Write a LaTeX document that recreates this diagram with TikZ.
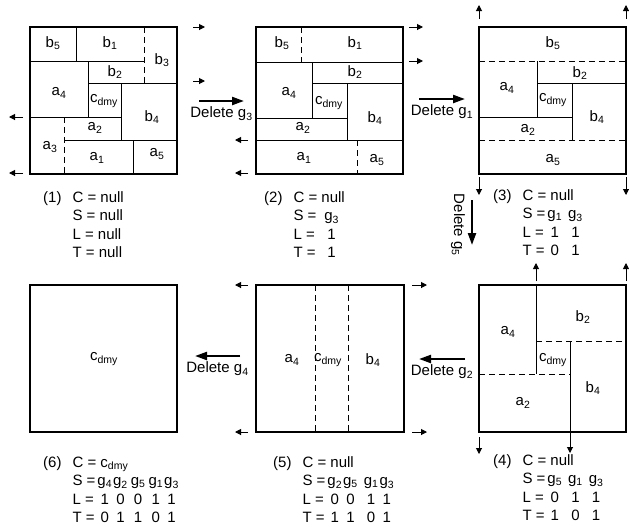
\documentclass[tikz,border=0pt]{standalone}
\usepackage{fontspec}
\setmainfont{Liberation Sans}
\usetikzlibrary{arrows.meta,positioning}
\tikzset{
  pframe/.style={line width=2pt},
  pline/.style={line width=0.9pt},
  pdash/.style={line width=0.9pt,dash pattern=on 6pt off 4pt},
  plabel/.style={inner sep=0pt,font=\fontsize{15}{17}\selectfont},
  endarr/.style={-{Triangle[length=6pt,width=6pt]},line width=1pt},
  delarr/.style={-{Triangle[length=12pt,width=8pt]},line width=2.2pt},
  dellabel/.style={inner sep=0pt,font=\fontsize{15}{17}\selectfont},
  statetext/.style={anchor=north west,inner sep=0pt,font=\fontsize{15}{18.5}\selectfont}
}
\newcommand{\sbs}[2]{#1\textsubscript{#2}}
\newcommand{\cdmy}{c\textsubscript{dmy}}

\begin{document}
\begin{tikzpicture}[x=1pt,y=-1pt]
  \useasboundingbox (0,0) rectangle (629,531);

  %% (1) initial plan
  \begin{scope}[shift={(30,27)}]
    \draw[pframe] (0,0) rectangle (147,147);
    \draw[pline] (0,34) -- (114,34) (46,0) -- (46,34)
                 (58,56) -- (147,56) (58,34) -- (58,90)
                 (0,90) -- (91,90) (91,56) -- (91,113)
                 (34,113) -- (147,113) (103,113) -- (103,147);
    \draw[pdash] (114,0) -- (114,56) (34,90) -- (34,147);
    \node[plabel] (ib5) at (23,16) {\sbs{b}{5}};
    \node[plabel] (ib1) at (80,16) {\sbs{b}{1}};
    \node[plabel] (ib3) at (132,33) {\sbs{b}{3}};
    \node[plabel] (ib2) at (85,45) {\sbs{b}{2}};
    \node[plabel] (ia4) at (29,66) {\sbs{a}{4}};
    \node[plabel] (icd) at (74,74) {\cdmy};
    \node[plabel] (ib4) at (122,90) {\sbs{b}{4}};
    \node[plabel] (ia2) at (65,101) {\sbs{a}{2}};
    \node[plabel] (ia3) at (20,120) {\sbs{a}{3}};
    \node[plabel] (ia1) at (67,131) {\sbs{a}{1}};
    \node[plabel] (ia5) at (127,127) {\sbs{a}{5}};
    \draw[endarr] (163,0) -- (175,0);
    \draw[endarr] (163,54) -- (175,54);
    \draw[endarr] (-7,90) -- (-21,90);
    \draw[endarr] (-7,146) -- (-21,146);
  \end{scope}
  \node[statetext] (st1) at (43,189) {\begin{tabular}{@{}l@{\hspace{11pt}}l@{}}
    (1) & C = null\\ & S = null\\ & L = null\\ & T = null\end{tabular}};

  %% (2) after g3
  \begin{scope}[shift={(256,27)}]
    \draw[pframe] (0,0) rectangle (147,147);
    \draw[pline] (0,35) -- (147,35) (56,56) -- (147,56) (56,35) -- (56,91)
                 (0,91) -- (91,91) (91,56) -- (91,113) (0,113) -- (147,113);
    \draw[pdash] (45,0) -- (45,35) (101,113) -- (101,147);
    \node[plabel] (jb5) at (26,16) {\sbs{b}{5}};
    \node[plabel] (jb1) at (99,16) {\sbs{b}{1}};
    \node[plabel] (jb2) at (99,45) {\sbs{b}{2}};
    \node[plabel] (ja4) at (33,66) {\sbs{a}{4}};
    \node[plabel] (jcd) at (73,76) {\cdmy};
    \node[plabel] (jb4) at (119,91) {\sbs{b}{4}};
    \node[plabel] (ja2) at (47,101) {\sbs{a}{2}};
    \node[plabel] (ja1) at (48,131) {\sbs{a}{1}};
    \node[plabel] (ja5) at (121,133) {\sbs{a}{5}};
    \draw[endarr] (153,0) -- (167,0);
    \draw[endarr] (153,34) -- (167,34);
    \draw[endarr] (-8,113) -- (-21,113);
    \draw[endarr] (-8,146) -- (-21,146);
  \end{scope}
  \node[statetext] (st2) at (264,189) {\begin{tabular}{@{}l@{\hspace{11pt}}l@{\hspace{2pt}}c@{}}
    (2) & \multicolumn{2}{@{}l@{}}{C = null}\\ & S = & \sbs{g}{3}\\ & L = & 1\\ & T = & 1\end{tabular}};

  %% (3) after g1
  \begin{scope}[shift={(479,27)}]
    \draw[pframe] (0,0) rectangle (147,147);
    \draw[pline] (58,34) -- (58,90) (58,56) -- (147,56)
                 (93,56) -- (93,113) (0,90) -- (93,90);
    \draw[pdash] (0,34) -- (147,34) (0,113) -- (147,113);
    \node[plabel] (kb5) at (74,16) {\sbs{b}{5}};
    \node[plabel] (kb2) at (101,46) {\sbs{b}{2}};
    \node[plabel] (ka4) at (28,61) {\sbs{a}{4}};
    \node[plabel] (kcd) at (74,73) {\cdmy};
    \node[plabel] (kb4) at (118,90) {\sbs{b}{4}};
    \node[plabel] (ka2) at (49,103) {\sbs{a}{2}};
    \node[plabel] (ka5) at (74,133) {\sbs{a}{5}};
    \draw[endarr] (0,-8) -- (0,-22);
    \draw[endarr] (147,-8) -- (147,-22);
    \draw[endarr] (0,150) -- (0,168);
    \draw[endarr] (147,150) -- (147,168);
  \end{scope}
  \node[statetext] (st3) at (493,187) {\begin{tabular}{@{}l@{\hspace{11pt}}l@{\hspace{2pt}}c@{\hspace{6pt}}c@{}}
    (3) & \multicolumn{3}{@{}l@{}}{C = null}\\ & S = & \sbs{g}{1} & \sbs{g}{3}\\
    & L = & 1 & 1\\ & T = & 0 & 1\end{tabular}};

  %% (4) after g5
  \begin{scope}[shift={(479,285)}]
    \draw[pframe] (0,0) rectangle (147,147);
    \draw[pline] (57,0) -- (57,89) (91,56) -- (91,147);
    \draw[pdash] (57,56) -- (147,56) (0,89) -- (91,89);
    \node[plabel] (lb2) at (104,32) {\sbs{b}{2}};
    \node[plabel] (la4) at (29,47) {\sbs{a}{4}};
    \node[plabel] (lcd) at (74,75) {\cdmy};
    \node[plabel] (lb4) at (114,103) {\sbs{b}{4}};
    \node[plabel] (la2) at (44,118) {\sbs{a}{2}};
    \draw[endarr] (57,-4) -- (57,-22);
    \draw[endarr] (147,-4) -- (147,-22);
    \draw[endarr] (0,152) -- (0,169);
    \draw[endarr] (91,148) -- (91,168);
  \end{scope}
  \node[statetext] (st4) at (493,452) {\begin{tabular}{@{}l@{\hspace{11pt}}l@{\hspace{2pt}}c@{\hspace{6pt}}c@{\hspace{6pt}}c@{}}
    (4) & \multicolumn{4}{@{}l@{}}{C = null}\\ & S = & \sbs{g}{5} & \sbs{g}{1} & \sbs{g}{3}\\
    & L = & 0 & 1 & 1\\ & T = & 1 & 0 & 1\end{tabular}};

  %% (5) after g2
  \begin{scope}[shift={(256,285)}]
    \draw[pframe] (0,0) rectangle (148,147);
    \draw[pdash] (59,0) -- (59,147) (92,0) -- (92,147);
    \node[plabel] (ma4) at (36,75) {\sbs{a}{4}};
    \node[plabel] (mcd) at (72,75) {\cdmy};
    \node[plabel] (mb4) at (117,75) {\sbs{b}{4}};
    \draw[endarr] (-8,0) -- (-21,0);
    \draw[endarr] (-8,147) -- (-21,147);
    \draw[endarr] (156,0) -- (171,0);
    \draw[endarr] (156,147) -- (171,147);
  \end{scope}
  \node[statetext] (st5) at (273,454) {\begin{tabular}{@{}l@{\hspace{11pt}}l@{\hspace{2pt}}c@{\hspace{1pt}}c@{\hspace{6pt}}c@{\hspace{1pt}}c@{}}
    (5) & \multicolumn{5}{@{}l@{}}{C = null}\\ & S = & \sbs{g}{2} & \sbs{g}{5} & \sbs{g}{1} & \sbs{g}{3}\\
    & L = & 0 & 0 & 1 & 1\\ & T = & 1 & 1 & 0 & 1\end{tabular}};

  %% (6) after g4
  \begin{scope}[shift={(30,285)}]
    \draw[pframe] (0,0) rectangle (147,147);
    \node[plabel] (ncd) at (74,74) {\cdmy};
  \end{scope}
  \node[statetext] (st6) at (43,454) {\begin{tabular}{@{}l@{\hspace{11pt}}l@{\hspace{2pt}}c@{\hspace{1pt}}c@{\hspace{3pt}}c@{\hspace{3pt}}c@{\hspace{1pt}}c@{}}
    (6) & \multicolumn{6}{@{}l@{}}{C = \cdmy}\\ & S = & \sbs{g}{4} & \sbs{g}{2} & \sbs{g}{5} & \sbs{g}{1} & \sbs{g}{3}\\
    & L = & 1 & 0 & 0 & 1 & 1\\ & T = & 0 & 1 & 1 & 0 & 1\end{tabular}};

  %% deletion steps
  \draw[delarr] (199,101) -- (244,101) node[dellabel,midway,below=5pt] (dg3) {Delete \sbs{g}{3}};
  \draw[delarr] (419,99) -- (465,99) node[dellabel,midway,below=5pt] (dg1) {Delete \sbs{g}{1}};
  \draw[delarr] (472,200) -- (472,245);
  \node[dellabel,rotate=-90] (dg5) at (458,225) {Delete \sbs{g}{5}};
  \draw[delarr] (465,359) -- (419,359) node[dellabel,midway,below=5pt] (dg2) {Delete \sbs{g}{2}};
  \draw[delarr] (240,356) -- (195,356) node[dellabel,midway,below=5pt] (dg4) {Delete \sbs{g}{4}};
\end{tikzpicture}
\end{document}
